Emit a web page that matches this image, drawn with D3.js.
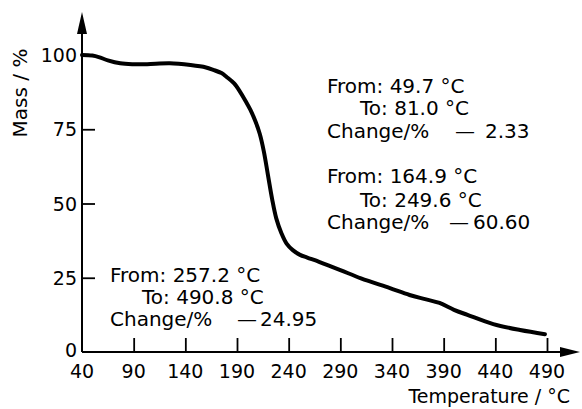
<!DOCTYPE html>
<html><head><meta charset="utf-8">
<script src="https://cdn.jsdelivr.net/npm/d3@7"></script>
<style>
html,body{margin:0;padding:0;background:#fff;}
text{font-family:"DejaVu Sans",sans-serif;fill:#000;}
</style></head>
<body>
<svg id="c" width="582" height="409"></svg>
<script>
const temperature = [40, 50, 57, 65, 77, 90, 103, 125, 145, 160, 167, 175, 180, 187, 193, 198, 203, 208, 212, 216, 220, 224, 228, 233, 238, 244, 251, 258, 270, 290, 310, 338, 357, 372, 386, 400, 413, 438, 464, 488];
const mass = [100, 99.8, 99.2, 98.2, 97.2, 96.9, 96.9, 97.2, 96.6, 95.8, 95, 93.9, 92.6, 90.5, 87.6, 84.7, 81.5, 77.5, 73.5, 67.5, 59.5, 51.5, 45, 40, 36.5, 34.3, 32.7, 31.8, 30.3, 27.6, 24.8, 21.5, 19.2, 17.8, 16.5, 14.2, 12.5, 9.4, 7.4, 6];
const xTicks = [40, 90, 140, 190, 240, 290, 340, 390, 440, 490];
const yTicks = [0, 25, 50, 75, 100];
const fromLabels = ["From: 49.7 °C", "From: 164.9 °C", "From: 257.2 °C"];
const toLabels = ["To: 81.0 °C", "To: 249.6 °C", "To: 490.8 °C"];
const changeLabel = "Change/%";
const changeValues = ["2.33", "60.60", "24.95"];

const svg = d3.select("#c");
const x = d3.scaleLinear().domain([40, 490]).range([82, 547]);
const y = d3.scaleLinear().domain([0, 100]).range([352, 55]);
const x0 = x(40), y0 = y(0);

// axes lines
svg.append("line").attr("x1", x0).attr("x2", 566).attr("y1", y0).attr("y2", y0).attr("stroke", "#000").attr("stroke-width", 2);
svg.append("line").attr("x1", x0).attr("x2", x0).attr("y1", y0).attr("y2", 30).attr("stroke", "#000").attr("stroke-width", 2);
// arrows
svg.append("path").attr("d", `M${x0 - 5},34 L${x0},12 L${x0 + 5},34 Z`).attr("fill", "#000");
svg.append("path").attr("d", `M560,${y0 - 5} L580,${y0} L560,${y0 + 5} Z`).attr("fill", "#000");

// x ticks
const xAxis = svg.append("g").attr("transform", `translate(0,${y0})`)
  .call(d3.axisTop(x).tickValues(xTicks).tickSize(14).tickFormat(""));
xAxis.select(".domain").remove();
xAxis.selectAll("line").attr("stroke", "#000").attr("stroke-width", 1.8);
xAxis.selectAll("line").filter(d => d === 40).remove();
svg.append("g").selectAll("text").data(xTicks).join("text")
  .attr("x", d => x(d)).attr("y", 378).attr("text-anchor", "middle")
  .attr("font-size", 19).text(d => d);

// y ticks
const yAxis = svg.append("g").attr("transform", `translate(${x0},0)`)
  .call(d3.axisRight(y).tickValues(yTicks).tickSize(13).tickFormat(""));
yAxis.select(".domain").remove();
yAxis.selectAll("line").attr("stroke", "#000").attr("stroke-width", 1.8);
yAxis.selectAll("line").filter(d => d === 0 || d === 100).remove();
svg.append("g").selectAll("text").data(yTicks).join("text")
  .attr("x", 77).attr("y", d => d === 0 ? 357 : y(d) + 7).attr("text-anchor", "end")
  .attr("font-size", 19).text(d => d);

// axis titles
svg.append("text").attr("transform", "translate(27,93) rotate(-90)").attr("text-anchor", "middle")
  .attr("font-size", 20).text("Mass / %");
svg.append("text").attr("x", 570).attr("y", 403).attr("text-anchor", "end")
  .attr("font-size", 19).text("Temperature / °C");

// curve
const line = d3.line().x((d, i) => x(temperature[i])).y(d => y(d)).curve(d3.curveCatmullRom);
svg.append("path").datum(mass).attr("d", line).attr("fill", "none")
  .attr("stroke", "#000").attr("stroke-width", 4).attr("stroke-linecap", "round");

// annotations
const blockPos = [
  {x: 327, xi: 360, ys: [93, 115, 138], dash: 455, val: 485},
  {x: 327, xi: 360, ys: [183, 207, 229], dash: 449, val: 473},
  {x: 110, xi: 142, ys: [282, 304, 326], dash: 237, val: 260}
];
blockPos.forEach((p, b) => {
  svg.append("text").attr("x", p.x).attr("y", p.ys[0]).attr("font-size", 20).text(fromLabels[b]);
  svg.append("text").attr("x", p.xi).attr("y", p.ys[1]).attr("font-size", 20).text(toLabels[b]);
  const t = svg.append("text").attr("y", p.ys[2]).attr("font-size", 20);
  t.append("tspan").attr("x", p.x).text(changeLabel);
  t.append("tspan").attr("x", p.dash).text("—");
  t.append("tspan").attr("x", p.val).text(changeValues[b]);
});
</script>
</body></html>
